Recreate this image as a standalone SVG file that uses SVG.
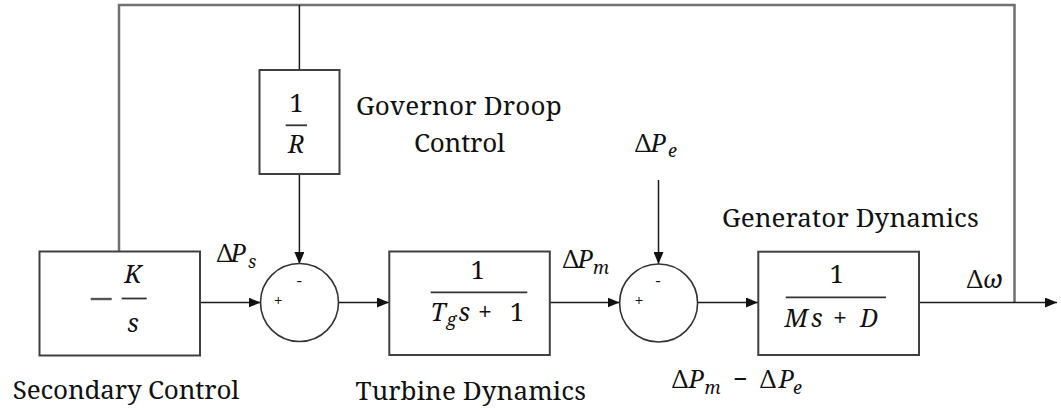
<svg xmlns="http://www.w3.org/2000/svg" width="1061" height="411" viewBox="0 0 1061 411">
<defs>
<marker id="arr" viewBox="0 0 12 10" refX="12" refY="5" markerWidth="12" markerHeight="10" markerUnits="userSpaceOnUse" orient="auto">
<path d="M0,0 L12,5 L0,10 Z" fill="#111"/>
</marker>
<style>
.box{fill:#fff;stroke:#404040;stroke-width:2}
.sum{fill:#fff;stroke:#333;stroke-width:1.6}
.wire{fill:none;stroke:#1a1a1a;stroke-width:1.5}
.fb{fill:none;stroke:#707070;stroke-width:2.5}
text{font-family:"Noto Serif","DejaVu Serif",serif;fill:#111}
.lbl{font-size:26px}
.m{font-size:25px;font-style:normal}
.mi{font-size:25px;font-style:italic}
.sub{font-size:18px;font-style:italic}
.sign{font-size:16px}
.frac{stroke:#333;stroke-width:1.8}
</style>
</defs>
<rect width="1061" height="411" fill="#fff"/>

<g id="connectors">
<polyline class="fb" points="1014.5,302.5 1014.5,5 119,5 119,251"/>
<line class="wire" x1="299.4" y1="5" x2="299.4" y2="70"/>
<line class="wire" x1="299.4" y1="174" x2="299.4" y2="264" marker-end="url(#arr)"/>
<line class="wire" x1="200" y1="302.5" x2="260.5" y2="302.5" marker-end="url(#arr)"/>
<line class="wire" x1="338.5" y1="302.5" x2="389" y2="302.5" marker-end="url(#arr)"/>
<line class="wire" x1="550" y1="302.5" x2="619.5" y2="302.5" marker-end="url(#arr)"/>
<line class="wire" x1="658.5" y1="180" x2="658.5" y2="264" marker-end="url(#arr)"/>
<line class="wire" x1="697.5" y1="302.5" x2="758" y2="302.5" marker-end="url(#arr)"/>
<line class="wire" x1="919" y1="302.5" x2="1057" y2="302.5" marker-end="url(#arr)"/>
</g>

<g id="secondary">
<rect class="box" x="39.5" y="251.5" width="160.5" height="104"/>
<line x1="90.7" y1="299" x2="111.7" y2="299" stroke="#555" stroke-width="2.4"/>
<text class="mi" x="133" y="283.3" text-anchor="middle">K</text>
<line class="frac" x1="121.7" y1="298.5" x2="146.7" y2="298.5"/>
<text class="mi" x="133" y="332" text-anchor="middle">s</text>
<text class="lbl" x="12.7" y="399.3" textLength="226.6">Secondary Control</text>
</g>

<g id="droop">
<rect class="box" x="259.5" y="70" width="80" height="104"/>
<text class="m" x="296.4" y="111.7" text-anchor="middle">1</text>
<line class="frac" x1="285.7" y1="125.3" x2="307" y2="125.3"/>
<text class="mi" x="296.4" y="153.3" text-anchor="middle">R</text>
<text class="lbl" x="356" y="115" textLength="205.7">Governor Droop</text>
<text class="lbl" x="414" y="151.7" textLength="91">Control</text>
</g>

<g id="sum1">
<circle class="sum" cx="299.5" cy="302.5" r="39"/>
<text class="sign" x="278.3" y="305.5" text-anchor="middle">+</text>
<text class="sign" x="299.2" y="286" text-anchor="middle">-</text>
<text y="261.7"><tspan class="m" x="216.7">Δ</tspan><tspan class="mi" x="230.5">P</tspan><tspan class="sub" x="248" dy="6">s</tspan></text>
</g>

<g id="turbine">
<rect class="box" x="389.3" y="251.5" width="160.5" height="103.5"/>
<text class="m" x="477.7" y="279.3" text-anchor="middle">1</text>
<line class="frac" x1="430.7" y1="292.3" x2="527.3" y2="292.3"/>
<text y="320.5"><tspan class="mi" x="430.5">T</tspan><tspan class="sub" x="446.5" dy="5">g</tspan><tspan class="mi" x="458.5" dy="-5">s</tspan><tspan class="m" x="478">+</tspan><tspan class="m" x="510">1</tspan></text>
<text class="lbl" x="355.6" y="399.5" textLength="230.3">Turbine Dynamics</text>
<text y="268"><tspan class="m" x="562.7">Δ</tspan><tspan class="mi" x="577.5">P</tspan><tspan class="sub" x="593" dy="6">m</tspan></text>
</g>

<g id="sum2">
<circle class="sum" cx="658.6" cy="303" r="39"/>
<text class="sign" x="639" y="305.5" text-anchor="middle">+</text>
<text class="sign" x="658" y="286" text-anchor="middle">-</text>
<text y="151.7"><tspan class="m" x="635">Δ</tspan><tspan class="mi" x="650.5">P</tspan><tspan class="sub" x="668" dy="5">e</tspan></text>
<text y="388"><tspan class="m" x="672">Δ</tspan><tspan class="mi" x="688.5">P</tspan><tspan class="sub" x="704.4" dy="6">m</tspan><tspan class="m" x="733" dy="-6">−</tspan><tspan class="m" x="760">Δ</tspan><tspan class="mi" x="778.5">P</tspan><tspan class="sub" x="793" dy="6">e</tspan></text>
</g>

<g id="generator">
<rect class="box" x="758.3" y="251.7" width="160.7" height="103.3"/>
<text class="m" x="836.7" y="283.3" text-anchor="middle">1</text>
<line class="frac" x1="785.7" y1="297.3" x2="886" y2="297.3"/>
<text y="326.7"><tspan class="mi" x="784.5">M</tspan><tspan class="mi" x="811">s</tspan><tspan class="m" x="833">+</tspan><tspan class="mi" x="860">D</tspan></text>
<text class="lbl" x="722" y="226.5" textLength="256.7">Generator Dynamics</text>
<text y="287.7"><tspan class="m" x="966.8">Δ</tspan><tspan class="mi" x="983">ω</tspan></text>
</g>
</svg>
